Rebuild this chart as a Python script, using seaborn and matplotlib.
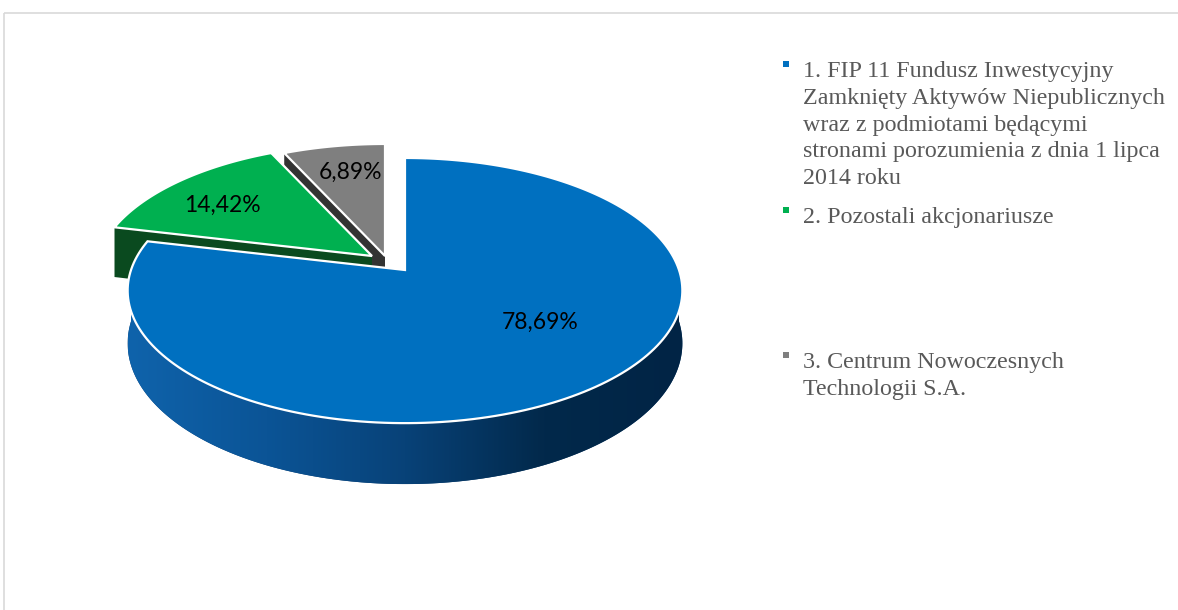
import numpy as np
import pandas as pd
import seaborn as sns
import matplotlib.pyplot as plt
from matplotlib.patches import Polygon, Rectangle
from matplotlib.colors import LinearSegmentedColormap

# Data
shares = [78.69, 14.42, 6.89]
legend_lines = [
    ["1. FIP 11 Fundusz Inwestycyjny",
     "Zamknięty Aktywów Niepublicznych",
     "wraz z podmiotami będącymi",
     "stronami porozumienia z dnia 1 lipca",
     "2014 roku"],
    ["2. Pozostali akcjonariusze"],
    ["3. Centrum Nowoczesnych",
     "Technologii S.A."],
]
top_colors = ["#0070C0", "#00B050", "#7F7F7F"]
wall_colors = ["#0d3f70", "#0a4a1f", "#333333"]

# Layout (pixels)
W, H = 1178, 610
CX, CY = 405, 270          # apex of the pie
RX, RY = 274, 129.4        # ellipse radii
K = 0.155                  # perspective factor
DEPTH = 51.5
explode = [(0, 0), (-33, -14), (-20, -14)]
label_pos = [(540, 322), (222, 205), (350, 172)]
legend_y = [77, 223, 368]
line_step = 26.8

sns.set_theme(style="white")
plt.rcParams['font.family'] = ['Lato', 'DejaVu Sans']


def proj(theta, r=1.0, z=0.0, off=(0, 0)):
    t = np.radians(theta)
    u, v = r * np.cos(t), r * np.sin(t)
    w = 1 + K * v
    x = CX + RX * u / w + off[0]
    y = CY - RY * v / w + z * DEPTH / w + off[1]
    return np.column_stack([np.atleast_1d(x), np.atleast_1d(y)])


df = pd.DataFrame({"share": shares, "top": top_colors, "wall": wall_colors})
# angles: start at 12 o'clock, go clockwise
df["t2"] = 90 - df["share"].cumsum().shift(fill_value=0) * 3.6 + 360
df["t1"] = df["t2"] - df["share"] * 3.6

fig = plt.figure(figsize=(W / 100, H / 100), dpi=100)
ax = fig.add_axes([0, 0, 1, 1])
ax.set_xlim(0, W)
ax.set_ylim(H, 0)
ax.axis("off")

# frame
ax.add_patch(Rectangle((4, 13), W + 20, H, fill=False, ec="#d9d9d9", lw=1.2))

blue_cmap = LinearSegmentedColormap.from_list(
    "side", ["#0f63ab", "#0b5496", "#084278", "#02294b", "#012445"])

# draw back to front: gray, green, blue
for i in [2, 1, 0]:
    row = df.iloc[i]
    off = explode[i]
    t1, t2 = row.t1, row.t2
    arc = np.linspace(t1, t2, 200)

    # outer wall (front half)
    lo, hi = max(t1, 180), min(t2, 360)
    if hi > lo:
        a = np.linspace(lo, hi, 200)
        pts = np.vstack([proj(a, off=off), proj(a[::-1], z=1, off=off)])
        wall = Polygon(pts, closed=True, fc=row.wall, ec="none", zorder=2)
        ax.add_patch(wall)
        if i == 0:
            grad = np.linspace(0, 1, 256).reshape(1, -1)
            im = ax.imshow(grad, cmap=blue_cmap, aspect="auto",
                           extent=[pts[:, 0].min(), pts[:, 0].max(),
                                   pts[:, 1].max(), pts[:, 1].min()], zorder=2)
            im.set_clip_path(wall)

    # radial walls facing the viewer
    for t, vis in [(t1, np.cos(np.radians(t1)) > 1e-6),
                   (t2, np.cos(np.radians(t2)) < -1e-6)]:
        if vis:
            e0 = proj(t, off=off)[0]
            c0 = proj(0, r=0, off=off)[0]
            c1 = proj(0, r=0, z=1, off=off)[0]
            e1 = proj(t, z=1, off=off)[0]
            ax.add_patch(Polygon([c0, e0, e1, c1], closed=True,
                                 fc=row.wall, ec="none", zorder=2))

    # top face
    top = np.vstack([proj(0, r=0, off=off), proj(arc, off=off)])
    ax.add_patch(Polygon(top, closed=True, fc=row.top, ec="white",
                         lw=1.6, zorder=3))

ax.set_xlim(0, W)
ax.set_ylim(H, 0)

# data labels
for v, (x, y) in zip(shares, label_pos):
    ax.text(x, y, f"{v:.2f}%".replace(".", ","), ha="center", va="center",
            fontsize=16.5, color="black", zorder=5)

# legend
for lines, y0, c in zip(legend_lines, legend_y, top_colors):
    ax.add_patch(Rectangle((783, y0 - 16), 5.5, 5.5, fc=c, ec="none"))
    for j, line in enumerate(lines):
        ax.text(803, y0 + j * line_step, line, ha="left", va="baseline",
                fontsize=17.3, color="#595959", family=["Liberation Serif"])

fig.savefig("out.png", dpi=100, facecolor="white")
